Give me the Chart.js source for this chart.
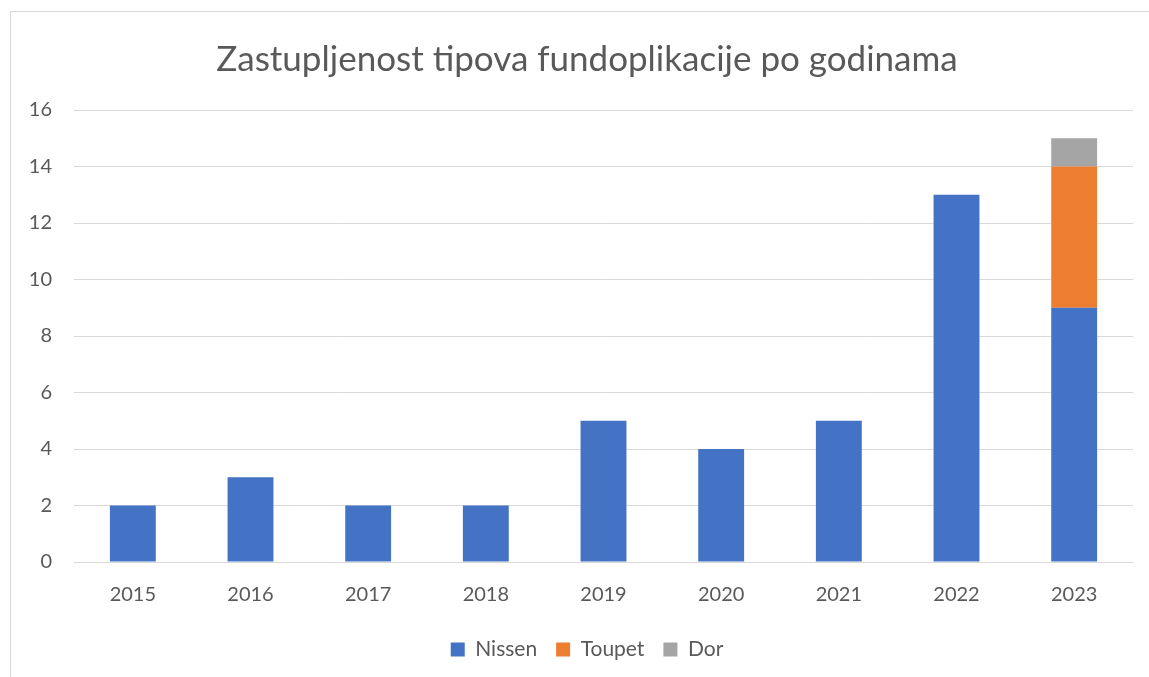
<!DOCTYPE html>
<html>
<head>
<meta charset="utf-8">
<script src="https://cdn.jsdelivr.net/npm/chart.js@4.4.0/dist/chart.umd.min.js"></script>
<style>
  body { margin: 0; background: #fff; }
  #frame { position: absolute; left: 10px; top: 11px; width: 1200px; height: 700px; border: 1px solid #d9d9d9; }
  #wrap { position: absolute; left: 0; top: 0; width: 1149px; height: 677px; }
</style>
</head>
<body>
<div id="frame"></div>
<div id="wrap"><canvas id="chart"></canvas></div>
<script>
// podaci
const years = ['2015', '2016', '2017', '2018', '2019', '2020', '2021', '2022', '2023'];
const nissen = [2, 3, 2, 2, 5, 4, 5, 13, 9];
const toupet = [0, 0, 0, 0, 0, 0, 0, 0, 5];
const dor = [0, 0, 0, 0, 0, 0, 0, 0, 1];

const textColor = '#595959';
const font = 'Lato, "Open Sans", sans-serif';

// y os je uska pa prosirimo podrucje za oznake nakon rasporeda
const widenYLabels = {
  id: 'widenYLabels',
  afterLayout(chart) {
    chart.scales.y.left = 0;
  }
};

const ctx = document.getElementById('chart').getContext('2d');
new Chart(ctx, {
  type: 'bar',
  data: {
    labels: years,
    datasets: [
      { label: 'Nissen', data: nissen, backgroundColor: '#4472c4' },
      { label: 'Toupet', data: toupet, backgroundColor: '#ed7d31' },
      { label: 'Dor', data: dor, backgroundColor: '#a5a5a5' }
    ]
  },
  options: {
    responsive: true,
    maintainAspectRatio: false,
    animation: false,
    datasets: {
      bar: { categoryPercentage: 1, barPercentage: 0.39 }
    },
    // lijevi razmak veci da naslov i legenda budu centrirani kao u originalu
    layout: { padding: { left: 41, right: 16, top: 0, bottom: 7 } },
    plugins: {
      title: {
        display: true,
        text: 'Zastupljenost tipova fundoplikacije po godinama',
        color: textColor,
        font: { family: font, size: 35, weight: 'normal' },
        padding: { top: 39, bottom: 29 }
      },
      legend: {
        position: 'bottom',
        labels: {
          color: textColor,
          font: { family: font, size: 21 },
          boxWidth: 14,
          boxHeight: 14,
          padding: 19
        }
      },
      tooltip: { enabled: false }
    },
    scales: {
      x: {
        stacked: true,
        grid: { display: false },
        border: { display: false },
        ticks: { color: textColor, font: { family: font, size: 20 }, padding: 13 }
      },
      y: {
        stacked: true,
        min: 0,
        max: 16,
        afterFit: (s) => { s.width = 33; },
        grid: { color: '#d9d9d9', drawTicks: false },
        border: { display: false },
        ticks: { stepSize: 2, color: textColor, font: { family: font, size: 20 }, padding: 22 }
      }
    }
  },
  plugins: [widenYLabels]
});
</script>
</body>
</html>
